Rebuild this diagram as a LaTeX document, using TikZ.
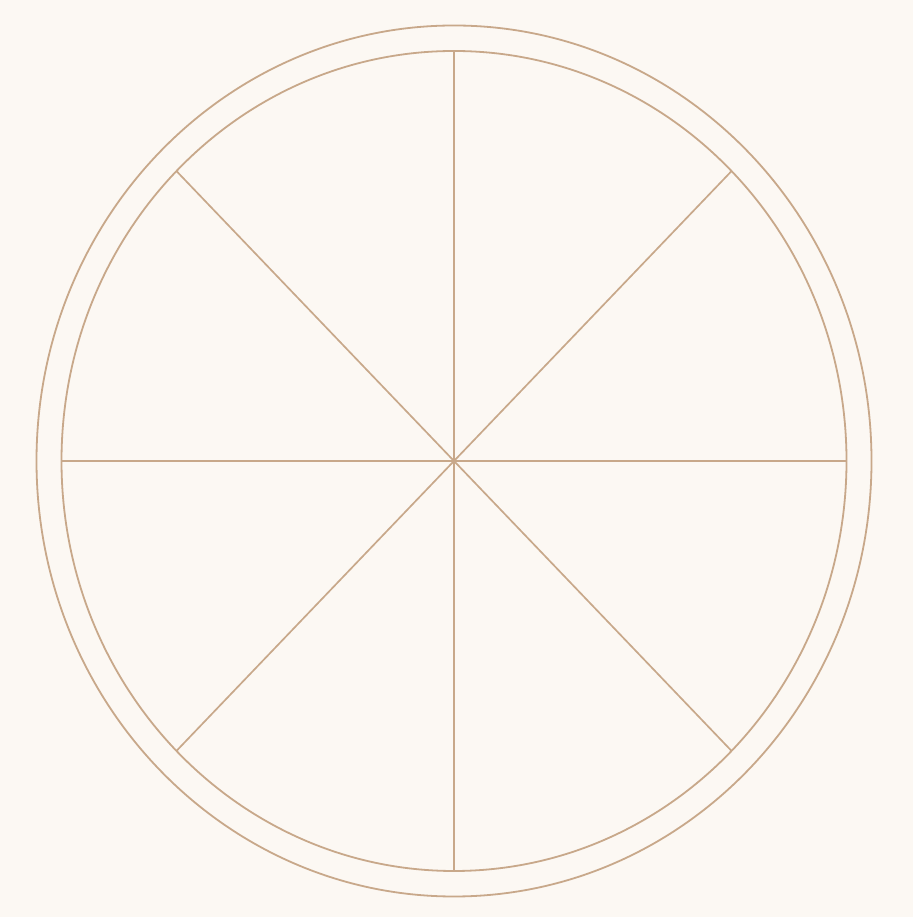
\documentclass[tikz,border=0pt]{standalone}
\usepackage{tikz}
\usetikzlibrary{calc}
\definecolor{paper}{RGB}{252,248,243}
\definecolor{tan}{RGB}{200,168,138}

\begin{document}
\begin{tikzpicture}[
      x=1pt, y=1pt,
      rim/.style={draw=tan, line width=1.8pt},
      spoke/.style={draw=tan, line width=1.7pt}
    ]
    \fill[paper] (0,0) rectangle (913,917);
    \useasboundingbox (0,0) rectangle (913,917);
    \coordinate (hub) at (454,456);

    % outer and inner ring
    \draw[rim] (hub) ellipse [x radius=417.5, y radius=435.5];
    \draw[rim] (hub) ellipse [x radius=392.5, y radius=410];

    % eight spokes
    \foreach \a in {0,45,...,315} {
      \coordinate (tip-\a) at ($(hub)+(\a:392.5 and 410)$);
      \draw[spoke] (hub) -- (tip-\a);
    }
  \end{tikzpicture}
\end{document}
